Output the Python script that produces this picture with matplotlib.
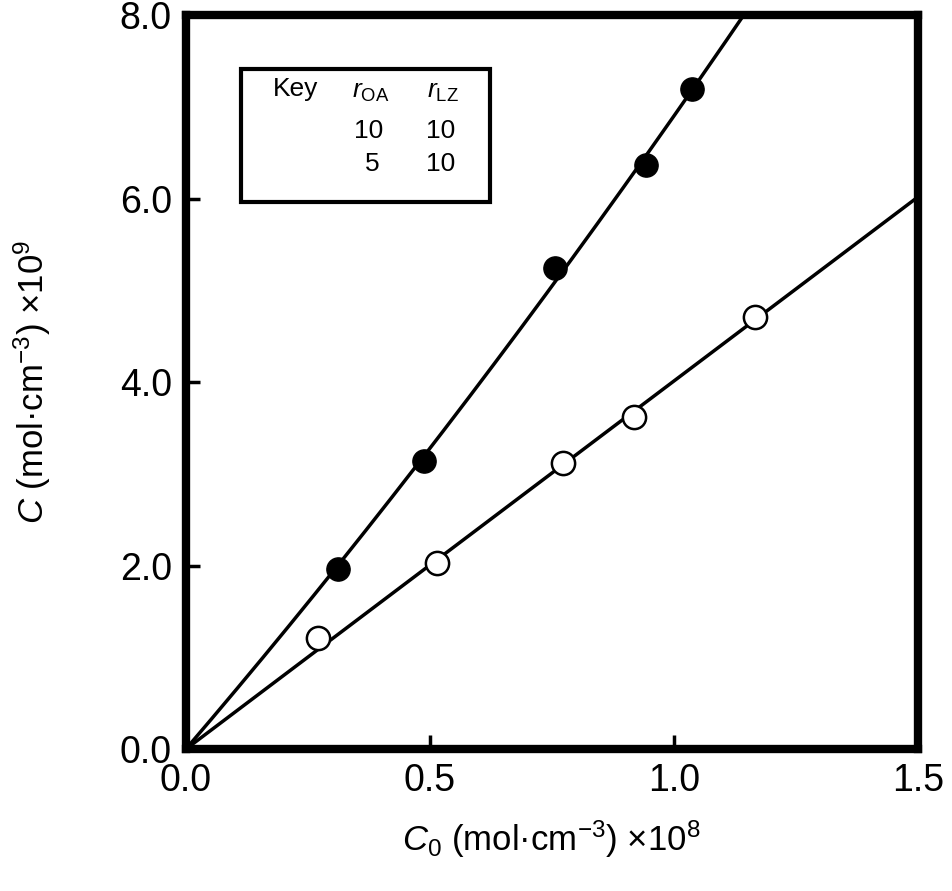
import matplotlib
matplotlib.use("Agg")
import matplotlib.pyplot as plt
import numpy as np
from matplotlib.patches import Rectangle

plt.rcParams['font.family'] = ['Liberation Sans', 'DejaVu Sans']
plt.rcParams['mathtext.fontset'] = 'custom'
plt.rcParams['mathtext.rm'] = 'Liberation Sans'
plt.rcParams['mathtext.it'] = 'Liberation Sans:italic'

filled_x = [0.313, 0.488, 0.756, 0.943, 1.037]
filled_y = [1.96, 3.14, 5.25, 6.37, 7.19]
open_x = [0.272, 0.514, 0.774, 0.919, 1.167]
open_y = [1.21, 2.03, 3.12, 3.62, 4.71]

fig = plt.figure(figsize=(9.52, 8.91), dpi=100)
ax = fig.add_axes([0.195, 0.159, 0.769, 0.824])

# fitted curves through origin
def fit(xv, yv, deg):
    xv = np.asarray(xv); yv = np.asarray(yv)
    A = np.column_stack([xv ** k for k in range(1, deg + 1)])
    return np.linalg.lstsq(A, yv, rcond=None)[0]

xs = np.linspace(0, 1.5, 200)
cf = fit(filled_x, filled_y, 2)
co = fit(open_x, open_y, 1)
yf = cf[0] * xs + cf[1] * xs ** 2
yo = co[0] * xs
ax.plot(xs, yf, color='black', lw=2.5, zorder=2)
ax.plot(xs, yo, color='black', lw=2.5, zorder=2)
ax.scatter(filled_x, filled_y, s=280, color='black', zorder=3)
ax.scatter(open_x, open_y, s=280, facecolor='white', edgecolor='black', linewidth=1.8, zorder=3)
ax.set_xlim(0, 1.5)
ax.set_ylim(0, 8.0)
ax.set_xticks([0, 0.5, 1.0, 1.5])
ax.set_xticklabels(['0.0', '0.5', '1.0', '1.5'])
ax.set_yticks([0, 2, 4, 6, 8])
ax.set_yticklabels(['0.0', '2.0', '4.0', '6.0', '8.0'])
ax.tick_params(direction='in', length=10, width=2.5, labelsize=27, pad=10)
for s in ax.spines.values():
    s.set_linewidth(6)
ax.set_xlabel(r'$\it{C}_0$ (mol·cm$^{-3}$) ×10$^8$', fontsize=25, labelpad=14)
ax.set_ylabel(r'$\it{C}$ (mol·cm$^{-3}$) ×10$^9$', fontsize=25, labelpad=48)

# key box
ax.add_patch(Rectangle((0.075, 0.746), 0.341, 0.18, transform=ax.transAxes,
                       fill=False, lw=3, edgecolor='black', zorder=4))
kw = dict(transform=ax.transAxes, fontsize=19, ha='center', va='center')
ax.text(0.15, 0.9, 'Key', **kw)
ax.text(0.253, 0.895, r'$\it{r}_{\rm OA}$', **kw)
ax.text(0.352, 0.895, r'$\it{r}_{\rm LZ}$', **kw)
ax.text(0.25, 0.842, '10', **kw)
ax.text(0.348, 0.842, '10', **kw)
ax.text(0.255, 0.797, '5', **kw)
ax.text(0.348, 0.797, '10', **kw)

fig.savefig('out.png', dpi=100)
